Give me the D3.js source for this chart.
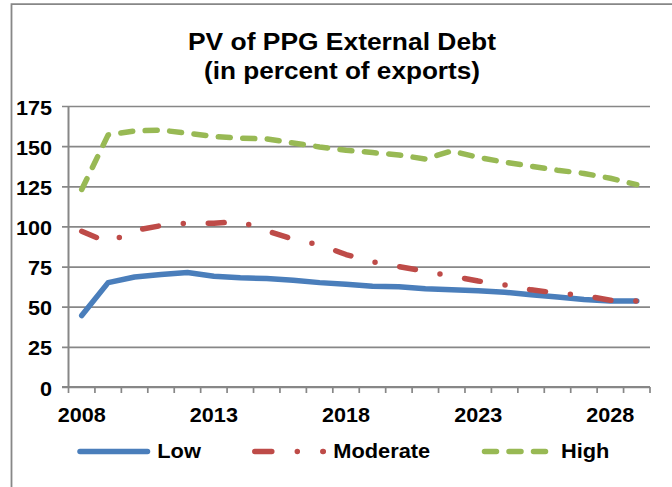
<html>
<head>
<title>PV of PPG External Debt</title>
<script src="https://cdn.jsdelivr.net/npm/d3@7"></script>
<style>
    body { margin: 0; background: #fff; }
    text { font-family: "Liberation Sans", Arial, sans-serif; font-weight: bold; fill: #000; }
</style>
</head>
<body>
<div id="chartholder"></div>
<script>

var years = [2008, 2009, 2010, 2011, 2012, 2013, 2014, 2015, 2016, 2017, 2018,
             2019, 2020, 2021, 2022, 2023, 2024, 2025, 2026, 2027, 2028, 2029];
var low = [44.5, 65, 68.5, 70, 71.3, 69, 68, 67.5, 66.5, 65, 64,
           62.8, 62.5, 61.2, 60.5, 60, 59, 57.5, 56, 54.5, 53.5, 53.5];
var moderate = [97, 90, 97.5, 100.5, 102, 102, 103, 97.3, 92, 88.5, 82.5,
                78, 75, 72, 69, 66, 63.5, 60.5, 58.5, 57, 54, 53.5];
var high = [123, 157, 159.5, 160, 158, 156, 155, 154.5, 152, 149.5, 147.5,
            146, 144.5, 142, 147, 143, 140, 137.5, 135, 133, 130, 126];
var seriesNames = ['Low', 'Moderate', 'High'];
var yTicks = [0, 25, 50, 75, 100, 125, 150, 175];
var xLabels = [2008, 2013, 2018, 2023, 2028];
var titleLines = ['PV of PPG External Debt', '(in percent of exports)'];

function makeChart() {
    var width = 672, height = 487;
    var plot = {left: 68.5, right: 650, top: 106, bottom: 387};
    var grey = '#878787';

    // looks of each series, same order as seriesNames
    var looks = [
        {values: low, color: '#4A7EBB', dash: null},
        {values: moderate, color: '#BE4B48', dash: '16,25,0,25'},
        {values: high, color: '#98B954', dash: '12,12.5'}
    ];

    var svg = d3.select('#chartholder')
        .append('svg')
            .attr('width', width)
            .attr('height', height);

    // the stretched look of the original text
    function widen(sel, f) {
        sel.each(function() {
            var w = this.getComputedTextLength();
            d3.select(this).attr('textLength', w * f).attr('lengthAdjust', 'spacingAndGlyphs');
        });
    }

    // chart frame (only top and left show)
    svg.append('path')
        .attr('d', 'M11.5,' + height + 'V4.2H' + width)
        .attr('fill', 'none')
        .attr('stroke', grey)
        .attr('stroke-width', 1.8);

    // title
    svg.append('g').selectAll('text')
        .data(titleLines)
        .enter().append('text')
            .attr('x', 342)
            .attr('y', function(d, i) { return 50 + i * 28.5; })
            .attr('text-anchor', 'middle')
            .style('font-size', '23px')
            .text(function(d) { return d; })
            .attr('textLength', function(d, i) { return i == 0 ? 308 : 276; })
            .attr('lengthAdjust', 'spacingAndGlyphs');

    var xScale = d3.scaleBand()
        .domain(years)
        .range([plot.left, plot.right]);
    var bw = xScale.bandwidth();

    var yScale = d3.scaleLinear()
        .domain([0, 175])
        .range([plot.bottom, plot.top]);

    // gridlines, running through the tick marks on the left
    var grid = svg.append('g')
        .attr('transform', 'translate(' + plot.right + ',0)')
        .call(d3.axisLeft(yScale).tickValues(yTicks).tickSize(plot.right - 62).tickFormat(''));
    grid.select('.domain').remove();
    grid.selectAll('line').attr('stroke', grey).attr('stroke-width', 1.7);

    // y labels
    svg.append('g').selectAll('text')
        .data(yTicks)
        .enter().append('text')
            .attr('x', 52)
            .attr('y', function(d) { return yScale(d) + 8.5; })
            .attr('text-anchor', 'end')
            .style('font-size', '20px')
            .text(function(d) { return d; })
            .call(widen, 1.08);

    // axes lines
    svg.append('line')
        .attr('x1', plot.left).attr('x2', plot.left)
        .attr('y1', plot.top).attr('y2', plot.bottom)
        .attr('stroke', grey).attr('stroke-width', 2);
    svg.append('line')
        .attr('x1', 62).attr('x2', plot.right)
        .attr('y1', plot.bottom).attr('y2', plot.bottom)
        .attr('stroke', grey).attr('stroke-width', 2);

    // x ticks between categories
    var bounds = years.map(function(y) { return xScale(y); }).concat([plot.right]);
    svg.append('g').selectAll('line')
        .data(bounds)
        .enter().append('line')
            .attr('x1', function(d) { return d; }).attr('x2', function(d) { return d; })
            .attr('y1', plot.bottom).attr('y2', plot.bottom + 6)
            .attr('stroke', grey).attr('stroke-width', 1.7);

    svg.append('g').selectAll('text')
        .data(xLabels)
        .enter().append('text')
            .attr('x', function(d) { return xScale(d) + bw / 2; })
            .attr('y', 421.5)
            .attr('text-anchor', 'middle')
            .style('font-size', '20px')
            .text(function(d) { return d; })
            .call(widen, 1.08);

    // series lines
    var line = d3.line()
        .x(function(d, i) { return xScale(years[i]) + bw / 2; })
        .y(function(d) { return yScale(d); });

    svg.append('g').selectAll('path')
        .data(looks)
        .enter().append('path')
            .attr('d', function(d) { return line(d.values); })
            .attr('fill', 'none')
            .attr('stroke', function(d) { return d.color; })
            .attr('stroke-width', 5.5)
            .attr('stroke-linecap', 'round')
            .attr('stroke-linejoin', 'round')
            .attr('stroke-dasharray', function(d) { return d.dash; });

    // legend
    var legendX = [{x1: 80, x2: 147.5, tx: 157.3},
                   {x1: 254.8, x2: 323.3, tx: 333.3},
                   {x1: 484.5, x2: 551, tx: 561}];
    var legend = svg.append('g').selectAll('g')
        .data(seriesNames)
        .enter().append('g');

    legend.append('line')
        .attr('x1', function(d, i) { return legendX[i].x1; })
        .attr('x2', function(d, i) { return legendX[i].x2; })
        .attr('y1', 451.5).attr('y2', 451.5)
        .attr('stroke', function(d, i) { return looks[i].color; })
        .attr('stroke-width', 5.5)
        .attr('stroke-linecap', 'round')
        .attr('stroke-dasharray', function(d, i) { return i == 1 ? '17,25.5,0,25.5' : looks[i].dash; });

    legend.append('text')
        .attr('x', function(d, i) { return legendX[i].tx; })
        .attr('y', 458.3)
        .style('font-size', '20px')
        .text(function(d) { return d; })
        .call(widen, 1.09);
}

makeChart();

</script>
</body>
</html>
